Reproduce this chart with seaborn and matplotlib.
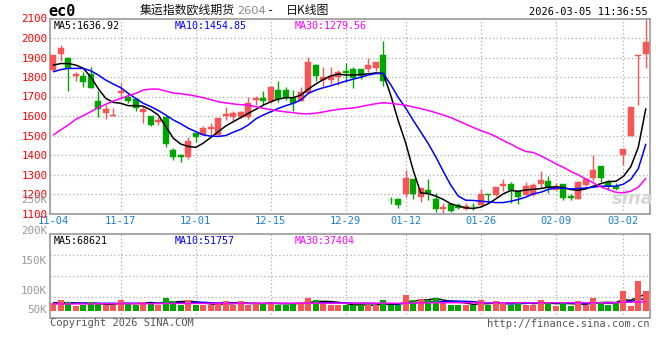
import matplotlib
matplotlib.use("Agg")
import matplotlib.pyplot as plt
import seaborn as sns
import numpy as np

# ---------------- data ----------------
dates = (["11-04", "11-05", "11-06", "11-07", "11-10", "11-11", "11-12", "11-13", "11-14",
          "11-17", "11-18", "11-19", "11-20", "11-21", "11-24", "11-25", "11-26", "11-27", "11-28",
          "12-01", "12-02", "12-03", "12-04", "12-05", "12-08", "12-09", "12-10", "12-11", "12-12",
          "12-15", "12-16", "12-17", "12-18", "12-19", "12-22", "12-23", "12-24", "12-25", "12-26",
          "12-29", "12-30", "12-31",
          "01-05", "01-06", "01-07", "01-08", "01-09", "01-12", "01-13", "01-14", "01-15", "01-16",
          "01-19", "01-20", "01-21", "01-22", "01-23", "01-26", "01-27", "01-28", "01-29", "01-30",
          "02-02", "02-03", "02-04", "02-05", "02-06", "02-09", "02-10", "02-11", "02-12", "02-13",
          "02-24", "02-25", "02-26", "02-27", "03-02", "03-03", "03-04", "03-05"])

open_ = [1835, 1917, 1900, 1804, 1804, 1815, 1677, 1617, 1600, 1719,
         1700, 1687, 1622, 1600, 1571, 1597, 1424, 1401, 1388, 1515,
         1503, 1534, 1503, 1600, 1597, 1597, 1597, 1680, 1694, 1679,
         1731, 1731, 1690, 1679, 1716, 1864, 1787, 1787, 1801, 1833,
         1840, 1840, 1840, 1847, 1912, 1169, 1172, 1200, 1279, 1184,
         1218, 1172, 1124, 1150, 1146, 1121, 1139, 1146, 1202, 1197,
         1240, 1253, 1214, 1197, 1197, 1253, 1265, 1223, 1252, 1189,
         1175, 1245, 1282, 1342, 1260, 1240, 1398, 1500, 1907, 1917]
high = [1915, 1963, 1902, 1827, 1827, 1852, 1728, 1656, 1640, 1767,
        1716, 1688, 1653, 1601, 1597, 1600, 1435, 1405, 1493, 1516,
        1549, 1563, 1591, 1645, 1628, 1628, 1697, 1704, 1728, 1755,
        1779, 1750, 1733, 1750, 1901, 1865, 1849, 1850, 1838, 1872,
        1852, 1841, 1898, 1877, 1983, 1185, 1177, 1325, 1279, 1231,
        1279, 1206, 1155, 1155, 1155, 1155, 1155, 1228, 1202, 1235,
        1279, 1260, 1214, 1260, 1255, 1316, 1294, 1257, 1252, 1202,
        1265, 1277, 1401, 1342, 1270, 1257, 1432, 1646, 1912, 2100]
low = [1830, 1883, 1728, 1781, 1750, 1742, 1597, 1587, 1600, 1687,
       1665, 1628, 1563, 1551, 1554, 1439, 1372, 1363, 1381, 1468,
       1503, 1503, 1502, 1580, 1571, 1588, 1585, 1656, 1656, 1665,
       1670, 1682, 1628, 1679, 1716, 1779, 1755, 1762, 1758, 1776,
       1742, 1792, 1826, 1830, 1755, 1150, 1129, 1187, 1175, 1160,
       1167, 1107, 1100, 1109, 1124, 1117, 1119, 1143, 1155, 1189,
       1214, 1155, 1150, 1194, 1190, 1231, 1206, 1219, 1168, 1168,
       1172, 1240, 1265, 1260, 1219, 1219, 1347, 1500, 1656, 1847]
close = [1912, 1947, 1847, 1815, 1775, 1745, 1638, 1636, 1607, 1730,
         1679, 1640, 1636, 1554, 1581, 1456, 1388, 1388, 1473, 1490,
         1537, 1542, 1590, 1611, 1617, 1622, 1667, 1694, 1679, 1750,
         1687, 1696, 1668, 1721, 1876, 1806, 1801, 1804, 1828, 1821,
         1797, 1804, 1860, 1876, 1782, 1167, 1143, 1284, 1201, 1231,
         1206, 1124, 1134, 1112, 1129, 1138, 1137, 1202, 1194, 1235,
         1253, 1223, 1184, 1243, 1248, 1270, 1231, 1243, 1180, 1179,
         1262, 1277, 1325, 1282, 1240, 1228, 1432, 1646, 1912, 1980]

ma5 = [1861, 1869, 1869, 1861, 1845, 1800, 1740, 1690, 1670, 1665,
       1653, 1653, 1650, 1631, 1605, 1546, 1486, 1456, 1444, 1439,
       1461, 1490, 1520, 1549, 1571, 1592, 1614, 1634, 1656, 1673,
       1687, 1694, 1694, 1707, 1738, 1764, 1787, 1806, 1815, 1810,
       1810, 1813, 1816, 1821, 1818, 1705, 1575, 1460, 1320, 1205,
       1202, 1189, 1172, 1150, 1138, 1129, 1126, 1133, 1150, 1175,
       1201, 1218, 1214, 1221, 1224, 1228, 1235, 1236, 1233, 1223,
       1219, 1226, 1240, 1253, 1264, 1265, 1290, 1340, 1440, 1636.92]
ma10 = [1827, 1838, 1844, 1844, 1844, 1832, 1810, 1784, 1764, 1745,
        1716, 1690, 1665, 1648, 1628, 1605, 1580, 1560, 1537, 1520,
        1503, 1497, 1495, 1500, 1517, 1532, 1554, 1585, 1605, 1622,
        1639, 1653, 1665, 1682, 1716, 1733, 1745, 1755, 1767, 1779,
        1789, 1799, 1810, 1818, 1818, 1760, 1695, 1640, 1577, 1518,
        1458, 1390, 1316, 1245, 1189, 1168, 1167, 1163, 1160, 1156,
        1156, 1163, 1172, 1184, 1201, 1209, 1223, 1231, 1230, 1226,
        1228, 1231, 1235, 1240, 1240, 1240, 1250, 1275, 1330, 1454.85]
ma30 = [1503, 1529, 1554, 1583, 1602, 1622, 1643, 1660, 1677, 1690,
        1704, 1716, 1733, 1738, 1738, 1728, 1718, 1714, 1709, 1702,
        1694, 1684, 1673, 1667, 1662, 1658, 1655, 1648, 1639, 1633,
        1626, 1621, 1617, 1612, 1611, 1614, 1621, 1628, 1634, 1638,
        1641, 1648, 1656, 1663, 1668, 1665, 1660, 1655, 1646, 1638,
        1628, 1617, 1605, 1592, 1575, 1558, 1541, 1525, 1512, 1495,
        1474, 1456, 1435, 1418, 1413, 1395, 1376, 1355, 1337, 1316,
        1298, 1277, 1257, 1236, 1223, 1209, 1206, 1214, 1235, 1279.56]

# volume in thousands
volume = [31.8, 44.3, 36.0, 19.4, 24.9, 36.0, 31.8, 22.1, 22.1, 44.3,
          31.8, 24.9, 36.0, 31.8, 24.9, 52.6, 40.1, 24.9, 44.3, 24.9,
          24.9, 24.9, 31.8, 40.1, 22.1, 40.1, 22.1, 31.8, 31.8, 31.8,
          24.9, 24.9, 31.8, 36.0, 52.6, 44.3, 31.8, 24.9, 22.1, 24.9,
          24.9, 22.1, 22.1, 22.1, 44.3, 22.1, 22.1, 65.0, 44.3, 48.4,
          44.3, 52.6, 31.8, 24.9, 24.9, 24.9, 24.9, 44.3, 24.9, 40.1,
          31.8, 24.9, 36.0, 24.9, 24.9, 44.3, 31.8, 19.4, 31.8, 19.4,
          40.1, 22.1, 52.6, 36.0, 24.9, 36.0, 81.6, 19.4, 123.1, 81.6]
vol_ma5 = [33, 33, 34, 32, 31, 32, 30, 27, 27, 31, 30, 29, 32, 34, 30, 34, 37, 38, 40, 37,
           32, 28, 26, 29, 29, 32, 31, 31, 30, 32, 29, 29, 29, 30, 34, 38, 39, 38, 35, 30,
           24, 24, 23, 23, 27, 27, 27, 35, 40, 44, 45, 51, 44, 40, 35, 32, 26, 29, 29, 32,
           33, 33, 32, 34, 29, 32, 32, 29, 30, 29, 28, 27, 33, 34, 35, 34, 46, 43, 57, 68.621]
vol_ma10 = [31, 31, 31, 31, 31, 31, 31, 31, 31, 31, 31, 31, 31, 31, 31, 32, 33, 34, 35, 35,
            35, 33, 32, 33, 33, 33, 30, 29, 29, 30, 31, 30, 30, 31, 33, 33, 33, 33, 33, 33,
            31, 31, 31, 30, 30, 30, 28, 30, 32, 35, 36, 39, 38, 40, 40, 39, 38, 34, 32, 31,
            29, 28, 29, 30, 32, 32, 33, 33, 31, 31, 31, 29, 30, 32, 31, 31, 38, 39, 44, 51.757]
vol_ma30 = [28, 28, 28, 28, 28, 28, 29, 29, 29, 29, 29, 29, 29, 29, 29, 30, 30, 30, 30, 30,
            30, 30, 30, 30, 30, 30, 30, 31, 31, 31, 31, 31, 31, 31, 31, 31, 31, 31, 31, 31,
            31, 31, 31, 31, 31, 31, 31, 31, 32, 32, 32, 33, 33, 33, 33, 33, 33, 33, 33, 33,
            33, 33, 33, 33, 33, 33, 33, 33, 33, 33, 33, 33, 33, 33, 33, 33, 35, 35, 36, 37.404]

tick_labels = ["11-04", "11-17", "12-01", "12-15", "12-29", "01-12", "01-26", "02-09", "03-02"]
price_ticks = [2100, 2000, 1900, 1800, 1700, 1600, 1500, 1400, 1300, 1200, 1100]
vol_labels = ["200K", "150K", "100K", "50K"]

# ---------------- style ----------------
sns.set_theme(style="white")
plt.rcParams["font.family"] = ["DejaVu Sans Mono", "Noto Sans CJK SC"]

RED = "#fa5555"
GREEN = "#00a600"
GRID = "#aaaaaa"
EDGE = "#9a9a9a"
XLAB = "#1a7fd0"
MONO = 7.2

W, H = 660, 360
fig = plt.figure(figsize=(W / 100, H / 100), dpi=100)
fig.patch.set_facecolor("white")


def px_axes(l, t, r, b):
    return fig.add_axes([l / W, 1 - b / H, (r - l) / W, (b - t) / H])


def ftext(xp, yp, s, **kw):
    fig.text(xp / W, 1 - yp / H, s, **kw)


ax = px_axes(50, 18.5, 650, 213.5)
axv = px_axes(50, 234.3, 650, 318)

n = len(close)
idx = np.arange(n)
o = np.array(open_, float)
c = np.array(close, float)
hi = np.array(high, float)
lo = np.array(low, float)
up = c >= o
cols = np.where(up, RED, GREEN)
tick_pos = [dates.index(t) for t in tick_labels]

for a in (ax, axv):
    a.set_xlim(-0.44, n - 0.44)
    for s in a.spines.values():
        s.set_color(EDGE)
        s.set_linewidth(1.2)
    a.tick_params(length=0)
    for tp in tick_pos[1:]:
        a.axvline(tp, color=GRID, lw=0.9, ls=(0, (1, 2)), zorder=0)

# ---- main candlestick panel ----
ax.set_ylim(1100, 2100)
for p in price_ticks[1:-1]:
    ax.axhline(p, color=GRID, lw=0.9, ls=(0, (1, 2)), zorder=0)
ax.vlines(idx, lo, hi, colors=cols, lw=1.0, zorder=2)
body_low = np.minimum(o, c)
body_h = np.maximum(np.abs(c - o), 3)
ax.bar(idx, body_h, bottom=body_low, width=0.8, color=cols, edgecolor=cols, linewidth=0.3, zorder=3)

sns.lineplot(x=idx, y=ma5, ax=ax, color="black", linewidth=1.1, estimator=None, zorder=4)
sns.lineplot(x=idx, y=ma10, ax=ax, color="#0000ff", linewidth=1.1, estimator=None, zorder=4)
sns.lineplot(x=idx, y=ma30, ax=ax, color="#ff00ff", linewidth=1.1, estimator=None, zorder=4)

ax.set_yticks(price_ticks)
ax.set_yticklabels([str(p) for p in price_ticks], color="#ff0000", fontsize=MONO + 0.6)
ax.tick_params(axis="y", pad=2)
ax.set_xticks(tick_pos)
ax.set_xticklabels(tick_labels, color=XLAB, fontsize=MONO + 0.3)
ax.tick_params(axis="x", pad=2)
ax.set_xlabel("")
ax.set_ylabel("")

ax.text(0.006, 0.985, "MA5:%.2f" % ma5[-1], transform=ax.transAxes, ha="left", va="top",
        fontsize=MONO, color="black")
ax.text(0.208, 0.985, "MA10:%.2f" % ma10[-1], transform=ax.transAxes, ha="left", va="top",
        fontsize=MONO, color="#0000ff")
ax.text(0.408, 0.985, "MA30:%.2f" % ma30[-1], transform=ax.transAxes, ha="left", va="top",
        fontsize=MONO, color="#ff00ff")
ax.text(0.972, 0.075, "sina", transform=ax.transAxes, ha="center", va="center",
        fontsize=13, color="#d6d6d6", style="italic", fontweight="bold", family="DejaVu Sans")

# ---- volume panel ----
vol_scale = 4.15  # thousand per pixel
vol_top = (310.7 - 234.3) * vol_scale
vol_bot = -(318 - 310.7) * vol_scale
axv.set_ylim(vol_bot, vol_top)
for fr in (0.25, 0.5, 0.75):
    axv.axhline(vol_bot + fr * (vol_top - vol_bot), color=GRID, lw=0.9, ls=(0, (1, 2)), zorder=0)
sns.lineplot(x=idx, y=vol_ma5, ax=axv, color="black", linewidth=1.0, estimator=None, zorder=1)
sns.lineplot(x=idx, y=vol_ma10, ax=axv, color="#0000ff", linewidth=1.0, estimator=None, zorder=1)
axv.bar(idx, volume, width=0.8, color=cols, linewidth=0, zorder=2)
sns.lineplot(x=idx, y=vol_ma30, ax=axv, color="#ff00ff", linewidth=1.0, estimator=None, zorder=3)
axv.set_xticks([])
axv.set_yticks([])
axv.set_xlabel("")
axv.set_ylabel("")
axv.text(0.006, 0.985, "MA5:%d" % round(vol_ma5[-1] * 1000), transform=axv.transAxes,
         ha="left", va="top", fontsize=MONO, color="black")
axv.text(0.208, 0.985, "MA10:%d" % round(vol_ma10[-1] * 1000), transform=axv.transAxes,
         ha="left", va="top", fontsize=MONO, color="#0000ff")
axv.text(0.408, 0.985, "MA30:%d" % round(vol_ma30[-1] * 1000), transform=axv.transAxes,
         ha="left", va="top", fontsize=MONO, color="#ff00ff")

for lab, yp in zip(vol_labels, [231, 261, 290.5, 310]):
    ftext(47, yp, lab, ha="right", va="center", fontsize=MONO + 0.6, color="#999999")
ftext(47, 200, "250K", ha="right", va="center", fontsize=MONO + 0.6, color="#999999")

# ---- header / footer ----
ftext(48, 12, "ec0", ha="left", va="center", fontsize=11, fontweight="bold", color="black")
ftext(140, 10.5, "集运指数欧线期货", ha="left", va="center", fontsize=8.6,
      family=["Noto Sans CJK SC", "DejaVu Sans"], color="#111111")
ftext(237, 11, "2604", ha="left", va="center", fontsize=8.2, color="#888888",
      family=["DejaVu Sans", "Noto Sans CJK SC"])
ftext(270, 10.5, "-", ha="center", va="center", fontsize=8.6, color="#111111")
ftext(286, 10.5, "日K线图", ha="left", va="center", fontsize=8.6,
      family=["Noto Sans CJK SC", "DejaVu Sans"], color="#111111")
ftext(648, 12, "2026-03-05 11:36:55", ha="right", va="center", fontsize=MONO + 0.3, color="black")
ftext(50, 323.5, "Copyright 2026 SINA.COM", ha="left", va="center", fontsize=MONO + 0.3, color="#555555")
ftext(650, 324, "http://finance.sina.com.cn", ha="right", va="center", fontsize=MONO + 0.3, color="#555555")

fig.savefig("out.png", dpi=100, facecolor="white")
